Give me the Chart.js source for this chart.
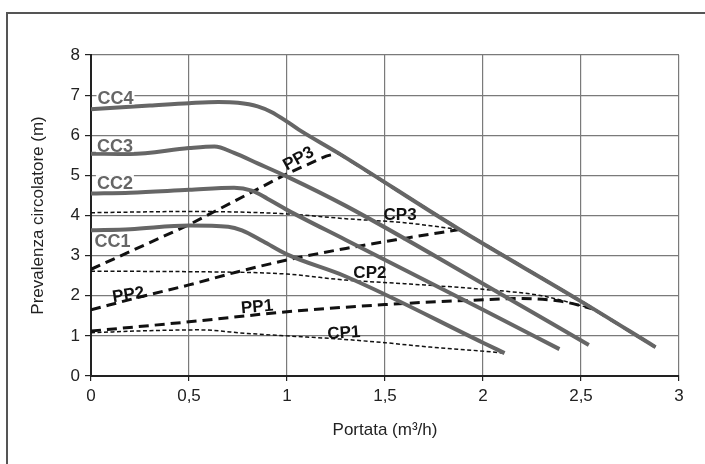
<!DOCTYPE html>
<html>
<head>
<meta charset="utf-8">
<script src="https://cdn.jsdelivr.net/npm/chart.js@4/dist/chart.umd.min.js"></script>
<style>
  html, body { margin: 0; padding: 0; background: #fff; }
  #wrap { position: relative; width: 705px; height: 464px; overflow: hidden; }
  #frame { position: absolute; left: 6px; top: 12px; width: 800px; height: 600px;
           border-left: 2px solid #555; border-top: 2px solid #555; }
  canvas { position: absolute; left: 0; top: 0; }
</style>
</head>
<body>
<div id="wrap">
  <div id="frame"></div>
  <canvas id="chart" width="705" height="464"></canvas>
</div>
<script>
// curve caratteristiche del circolatore (x = portata m3/h, y = prevalenza m)
const cc4X = [0, 0.3, 0.5, 0.65, 0.75, 0.85, 0.92, 1.0, 1.06, 1.26, 1.88, 2.5, 2.88];
const cc4Y = [6.65, 6.74, 6.8, 6.83, 6.81, 6.72, 6.58, 6.34, 6.14, 5.56, 3.65, 1.86, 0.72];
const cc3X = [0, 0.2, 0.5, 0.63, 0.73, 0.85, 1.0, 1.3, 2.0, 2.54];
const cc3Y = [5.54, 5.53, 5.68, 5.72, 5.56, 5.3, 4.97, 4.24, 2.3, 0.77];
const cc2X = [0, 0.2, 0.5, 0.73, 0.82, 0.9, 1.0, 1.3, 2.0, 2.39];
const cc2Y = [4.55, 4.57, 4.64, 4.69, 4.62, 4.42, 4.14, 3.39, 1.65, 0.67];
const cc1X = [0, 0.2, 0.5, 0.7, 0.77, 0.88, 1.0, 1.3, 2.0, 2.11];
const cc1Y = [3.63, 3.66, 3.75, 3.72, 3.63, 3.35, 3.03, 2.48, 0.83, 0.57];

// curve PP (tratteggio grosso); PP3 prosegue sulla CC4
const pp3X = [0, 0.5, 1.0, 1.2, 1.26, 1.88, 2.5, 2.88];
const pp3Y = [2.66, 3.77, 5.04, 5.48, 5.56, 3.65, 1.86, 0.72];
const pp2X = [0, 0.275, 0.5, 0.75, 1.0, 1.3, 1.6, 1.88];
const pp2Y = [1.65, 2.0, 2.27, 2.6, 2.89, 3.18, 3.43, 3.65];
const pp1X = [0, 0.5, 1.0, 1.5, 2.0, 2.2, 2.4, 2.57];
const pp1Y = [1.12, 1.35, 1.6, 1.78, 1.9, 1.93, 1.86, 1.66];

// curve CP (puntinato)
const cp3X = [0, 0.5, 0.8, 1.0, 1.3, 1.6, 1.88];
const cp3Y = [4.07, 4.1, 4.08, 4.04, 3.92, 3.82, 3.65];
const cp2X = [0, 0.5, 1.0, 1.3, 1.6, 2.0, 2.3, 2.57];
const cp2Y = [2.61, 2.6, 2.54, 2.39, 2.3, 2.16, 2.0, 1.66];
const cp1X = [0, 0.3, 0.55, 0.8, 1.0, 1.27, 1.5, 1.73, 2.0, 2.11];
const cp1Y = [1.08, 1.13, 1.15, 1.06, 1.0, 0.92, 0.83, 0.72, 0.62, 0.57];

const xTicks = [0, 0.5, 1, 1.5, 2, 2.5, 3];
const yTicks = [0, 1, 2, 3, 4, 5, 6, 7, 8];

// etichette sulle curve (centro, in coordinate dati)
const tagText = ['CC4', 'CC3', 'CC2', 'CC1', 'PP3', 'PP2', 'PP1', 'CP3', 'CP2', 'CP1'];
const tagX = [0.125, 0.122, 0.122, 0.11, 1.056, 0.19, 0.847, 1.577, 1.423, 1.29];
const tagY = [6.93, 5.74, 4.81, 3.37, 5.44, 2.05, 1.75, 4.04, 2.59, 1.1];
const tagAngle = [0, 0, 0, 0, -29, -9, -5, 0, 0, -4];

const FONT = "'Liberation Sans', Arial, Helvetica, sans-serif";

function pts(xs, ys) {
    return xs.map((x, i) => ({ x: x, y: ys[i] }));
}

function ccSet(xs, ys) {
    return { data: pts(xs, ys), borderColor: '#666', borderWidth: 4, pointRadius: 0,
             cubicInterpolationMode: 'monotone', fill: false };
}
function ppSet(xs, ys, smooth) {
    const ds = { data: pts(xs, ys), borderColor: '#111', borderWidth: 3, borderDash: [10, 6],
                 pointRadius: 0, fill: false, tension: 0 };
    if (smooth) ds.cubicInterpolationMode = 'monotone';
    return ds;
}
function cpSet(xs, ys) {
    return { data: pts(xs, ys), borderColor: '#111', borderWidth: 1.5, borderDash: [4, 2.5],
             pointRadius: 0, cubicInterpolationMode: 'monotone', fill: false };
}

const tagPlugin = {
    id: 'tags',
    afterDatasetsDraw(chart) {
        const ctx = chart.ctx;
        const xs = chart.scales.x, ys = chart.scales.y;
        tagText.forEach((t, i) => {
            const px = xs.getPixelForValue(tagX[i]);
            const py = ys.getPixelForValue(tagY[i]);
            const isCC = t.startsWith('CC');
            const size = isCC ? 18 : 17;
            const capH = size * 0.716;
            ctx.save();
            ctx.translate(px, py);
            ctx.rotate(tagAngle[i] * Math.PI / 180);
            ctx.font = 'bold ' + size + 'px ' + FONT;
            ctx.textAlign = 'center';
            ctx.textBaseline = 'alphabetic';
            if (isCC) {
                const w = ctx.measureText(t).width;
                ctx.fillStyle = '#fff';
                ctx.fillRect(-w / 2 - 1, -capH / 2 - 1.5, w + 2, capH + 1.5);
            }
            ctx.fillStyle = isCC ? '#666' : '#111';
            ctx.fillText(t, 0, capH / 2);
            ctx.restore();
        });
    }
};

new Chart(document.getElementById('chart'), {
    type: 'line',
    data: {
        datasets: [
            ccSet(cc4X, cc4Y), ccSet(cc3X, cc3Y), ccSet(cc2X, cc2Y), ccSet(cc1X, cc1Y),
            cpSet(cp3X, cp3Y), cpSet(cp2X, cp2Y), cpSet(cp1X, cp1Y),
            ppSet(pp3X, pp3Y, false), ppSet(pp2X, pp2Y, true), ppSet(pp1X, pp1Y, true)
        ]
    },
    options: {
        responsive: false,
        animation: false,
        layout: { padding: { top: 55, right: 26, left: 0, bottom: 0 } },
        plugins: { legend: { display: false }, tooltip: { enabled: false } },
        scales: {
            x: {
                type: 'linear', min: 0, max: 3,
                afterBuildTicks: s => { s.ticks = xTicks.map(v => ({ value: v })); },
                afterFit: s => { s.height = 88; },
                ticks: {
                    color: '#222', font: { family: FONT, size: 17 }, padding: 5,
                    maxRotation: 0,
                    callback: v => String(v).replace('.', ',')
                },
                grid: { color: '#7a7a7a', lineWidth: 1.2, tickLength: 5, tickColor: '#222' },
                border: { display: true, color: '#222', width: 2 },
                title: {
                    display: true, text: 'Portata (m³/h)', color: '#222',
                    font: { family: FONT, size: 17 }, padding: { top: 0, bottom: 23 }
                }
            },
            y: {
                type: 'linear', min: 0, max: 8,
                afterBuildTicks: s => { s.ticks = yTicks.map(v => ({ value: v })); },
                afterFit: s => { s.width = 91; },
                ticks: { color: '#222', font: { family: FONT, size: 17 }, padding: 5 },
                grid: { color: '#7a7a7a', lineWidth: 1.2, tickLength: 6, tickColor: '#222' },
                border: { display: true, color: '#222', width: 2 },
                title: {
                    display: true, text: 'Prevalenza circolatore (m)', color: '#222',
                    font: { family: FONT, size: 17 }, padding: { top: 28, bottom: 0 }
                }
            }
        }
    },
    plugins: [tagPlugin]
});
</script>
</body>
</html>
